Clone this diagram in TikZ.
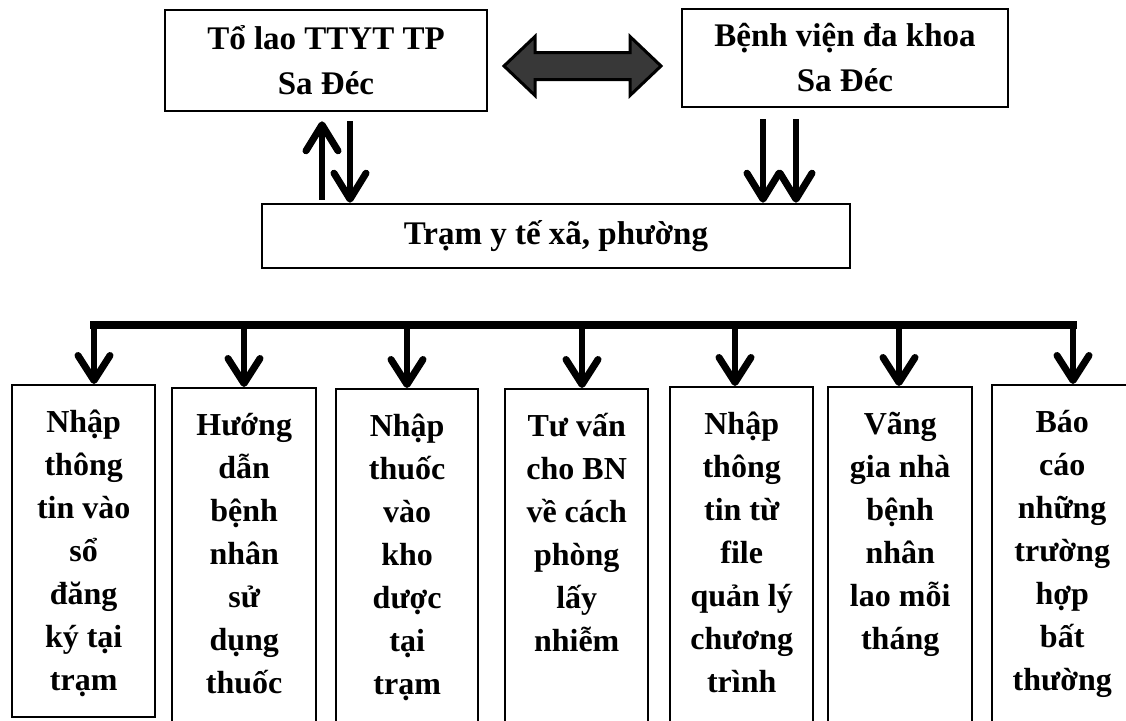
\documentclass[tikz,border=0pt]{standalone}
\usepackage{fontspec}
\setmainfont{Liberation Serif}
\usetikzlibrary{arrows.meta}
\begin{document}
\begin{tikzpicture}[x=1pt,y=-1pt,
  box/.style={draw, line width=2.6pt, inner sep=0pt, font=\bfseries\fontsize{33}{45}\selectfont, align=center},
  col/.style={draw, line width=2.4pt, inner sep=0pt, anchor=north west},
  coltext/.style={inner sep=0pt, anchor=base, font=\bfseries\fontsize{32}{43}\selectfont},
  varrow/.style={line width=6pt, -{Straight Barb[length=26pt,width=32pt,line width=7pt,round]}},
  drop/.style={line width=5.5pt, -{Straight Barb[length=25pt,width=32pt,line width=7pt,round]}},
  bus/.style={line width=8pt, line cap=rect}
]
\useasboundingbox (0,0) rectangle (1126,720);
\fill[white] (0,0) rectangle (1126,720);
\clip (0,0) rectangle (1126,720);

% top boxes
\node[box, minimum width=322pt, minimum height=101pt] (tl) at (326,60.5) {Tổ lao TTYT TP\\Sa Đéc};
\node[box, minimum width=326pt, minimum height=98pt] (tr) at (845,58) {Bệnh viện đa khoa\\Sa Đéc};
\node[box, minimum width=588pt, minimum height=64pt] (mid) at (556,236) {Trạm y tế xã, phường};

% double arrow between top boxes
\coordinate (dl) at (504,66);
\coordinate (dr) at (661,66);
\draw[line width=3pt, line join=miter, fill=black!78]
  (dl) -- (535,36.5) -- (535,52.5) -- (630,52.5) -- (630,36.5) -- (dr)
  -- (630,95.5) -- (630,79.5) -- (535,79.5) -- (535,95.5) -- cycle;

% vertical arrows
\coordinate (xa) at (322,0);
\coordinate (xb) at (350,0);
\coordinate (xc) at (763,0);
\coordinate (xd) at (796,0);
\draw[varrow, shorten <=3pt, shorten >=9pt] (mid.north -| xa) -- (tl.south -| xa);
\draw[varrow, shorten <=9pt] (tl.south -| xb) -- (mid.north -| xb);
\draw[varrow, shorten <=11pt] (tr.south -| xc) -- (mid.north -| xc);
\draw[varrow, shorten <=11pt] (tr.south -| xd) -- (mid.north -| xd);

% bottom boxes
\node[col, minimum width=143pt, minimum height=332pt] (b1) at (11,384) {};
\node[col, minimum width=144pt, minimum height=345pt] (b2) at (171,387) {};
\node[col, minimum width=142pt, minimum height=345pt] (b3) at (335,388) {};
\node[col, minimum width=143pt, minimum height=345pt] (b4) at (504,388) {};
\node[col, minimum width=143pt, minimum height=345pt] (b5) at (669,386) {};
\node[col, minimum width=144pt, minimum height=345pt] (b6) at (827,386) {};
\node[col, minimum width=140pt, minimum height=345pt] (b7) at (991,384) {};

\path (b1.north) ++(0,48) node[coltext] (t1) {\parbox[t]{140pt}{\centering Nhập\\thông\\tin vào\\sổ\\đăng\\ký tại\\trạm}};
\path (b2.north) ++(0,48) node[coltext] (t2) {\parbox[t]{140pt}{\centering Hướng\\dẫn\\bệnh\\nhân\\sử\\dụng\\thuốc}};
\path (b3.north) ++(0,48) node[coltext] (t3) {\parbox[t]{140pt}{\centering Nhập\\thuốc\\vào\\kho\\dược\\tại\\trạm}};
\path (b4.north) ++(0,48) node[coltext] (t4) {\parbox[t]{140pt}{\centering Tư vấn\\cho BN\\về cách\\phòng\\lấy\\nhiễm}};
\path (b5.north) ++(0,48) node[coltext] (t5) {\parbox[t]{140pt}{\centering Nhập\\thông\\tin từ\\file\\quản lý\\chương\\trình}};
\path (b6.north) ++(0,48) node[coltext] (t6) {\parbox[t]{140pt}{\centering Vãng\\gia nhà\\bệnh\\nhân\\lao mỗi\\tháng}};
\path (b7.north) ++(0,48) node[coltext] (t7) {\parbox[t]{140pt}{\centering Báo\\cáo\\những\\trường\\hợp\\bất\\thường}};

% bus and drops
\coordinate (k1) at (94,325);
\coordinate (k2) at (244,325);
\coordinate (k3) at (407,325);
\coordinate (k4) at (582,325);
\coordinate (k5) at (735,325);
\coordinate (k6) at (899,325);
\coordinate (k7) at (1073,325);
\draw[bus] (k1) -- (k7);
\draw[drop] (k1) -- (b1.north -| k1);
\draw[drop] (k2) -- (b2.north -| k2);
\draw[drop] (k3) -- (b3.north -| k3);
\draw[drop] (k4) -- (b4.north -| k4);
\draw[drop] (k5) -- (b5.north -| k5);
\draw[drop] (k6) -- (b6.north -| k6);
\draw[drop] (k7) -- (b7.north -| k7);
\end{tikzpicture}
\end{document}
